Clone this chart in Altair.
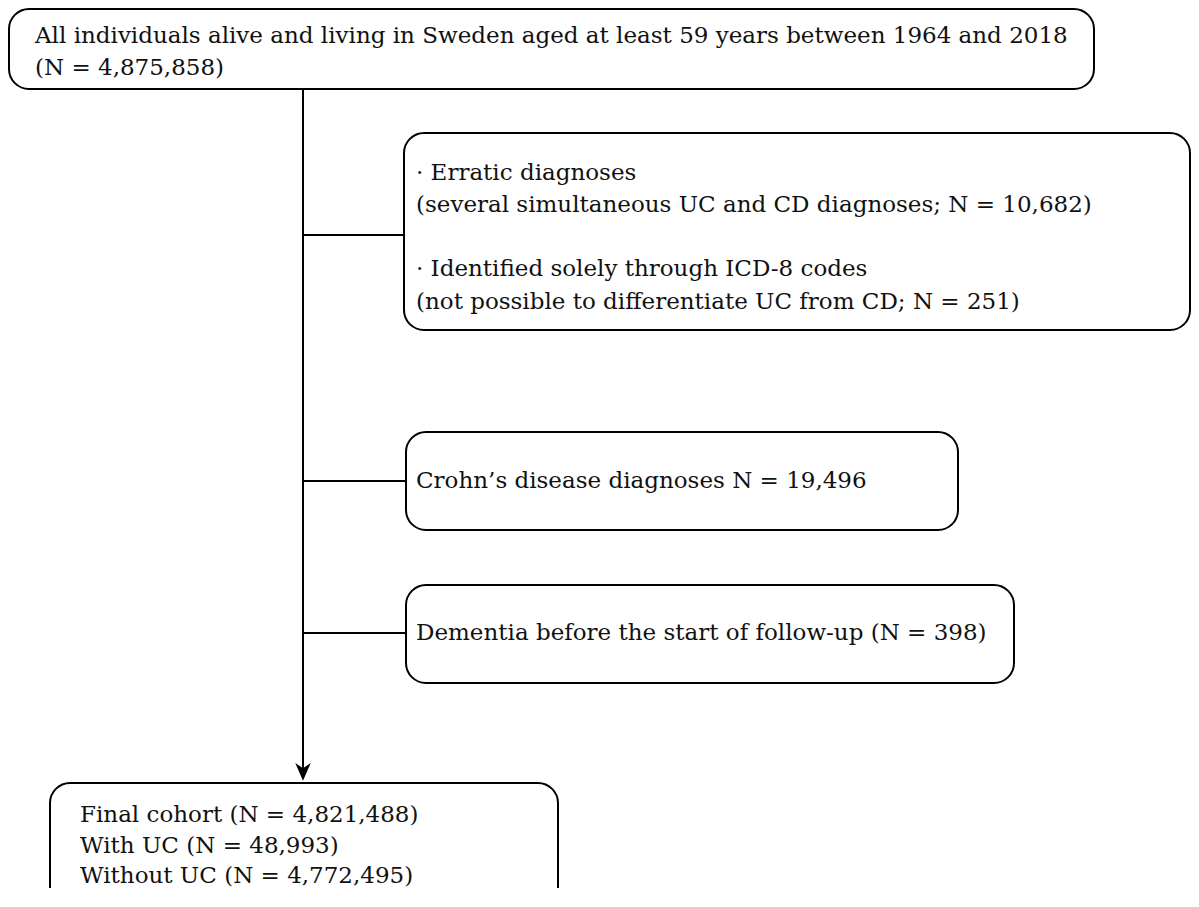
import altair as alt
import pandas as pd

# ---- content ----
box_names = ["start", "excl1", "excl2", "excl3", "final"]
box_x0 = [9, 404, 406, 406, 50]
box_x1 = [1094, 1190, 958, 1014, 558]
box_y0 = [9, 133, 432, 585, 783]
box_y1 = [89, 330, 530, 683, 960]

text_lines = [
    "All individuals alive and living in Sweden aged at least 59 years between 1964 and 2018",
    "(N = 4,875,858)",
    "· Erratic diagnoses",
    "(several simultaneous UC and CD diagnoses; N = 10,682)",
    "· Identified solely through ICD-8 codes",
    "(not possible to differentiate UC from CD; N = 251)",
    "Crohn’s disease diagnoses N = 19,496",
    "Dementia before the start of follow-up (N = 398)",
    "Final cohort (N = 4,821,488)",
    "With UC (N = 48,993)",
    "Without UC (N = 4,772,495)",
]
text_x = [35, 35, 416, 416, 416, 416, 416, 416, 80, 80, 80]
text_y = [36, 68, 173, 205, 269, 302, 481, 633, 815, 846, 876]

# connector lines
main_x = [303]
main_y0 = [89]
main_y1 = [776]
branch_y = [235, 481, 633]
branch_x0 = [303, 303, 303]
branch_x1 = [404, 406, 406]

# ---- frame ----
W, H = 1183, 880
XD = [8, 8 + W]
YD = [8, 8 + H]
xs = alt.Scale(domain=XD, nice=False, zero=False)
ys = alt.Scale(domain=YD, nice=False, zero=False, reverse=True)
X = lambda f: alt.X(f, type="quantitative", scale=xs, axis=None)
Y = lambda f: alt.Y(f, type="quantitative", scale=ys, axis=None)

boxes = pd.DataFrame({"name": box_names, "x0": box_x0, "x1": box_x1, "y0": box_y0, "y1": box_y1})
texts = pd.DataFrame({"t": text_lines, "x": text_x, "y": text_y})
branches = pd.DataFrame({"x0": branch_x0, "x1": branch_x1, "y": branch_y})
main = pd.DataFrame({"x": main_x, "y0": main_y0, "y1": main_y1})
arrow = pd.DataFrame({"x": main_x, "y": [773]})

rects = alt.Chart(boxes).mark_rect(
    fill="white", stroke="black", strokeWidth=2, cornerRadius=20, clip=True
).encode(x=X("x0"), x2="x1", y=Y("y0"), y2="y1")

main_rule = alt.Chart(main).mark_rule(color="black", strokeWidth=2).encode(
    x=X("x"), y=Y("y0"), y2="y1"
)
branch_rules = alt.Chart(branches).mark_rule(color="black", strokeWidth=2).encode(
    x=X("x0"), x2="x1", y=Y("y")
)
head = alt.Chart(arrow).mark_point(
    shape="M-1,-1.3 L0,1 L1,-1.3 L0,-0.6 Z", filled=True, color="black", size=240, opacity=1
).encode(x=X("x"), y=Y("y"))

labels = alt.Chart(texts).mark_text(
    align="left", baseline="middle", font="DejaVu Serif", fontSize=23, color="#111111"
).encode(x=X("x"), y=Y("y"), text="t:N")

chart = alt.layer(rects, main_rule, branch_rules, head, labels).properties(
    width=W, height=H, padding=0, autosize=alt.AutoSizeParams(type="none")
).configure_view(stroke=None)

chart.save("out.html", embed_options={"renderer": "svg", "actions": False})
